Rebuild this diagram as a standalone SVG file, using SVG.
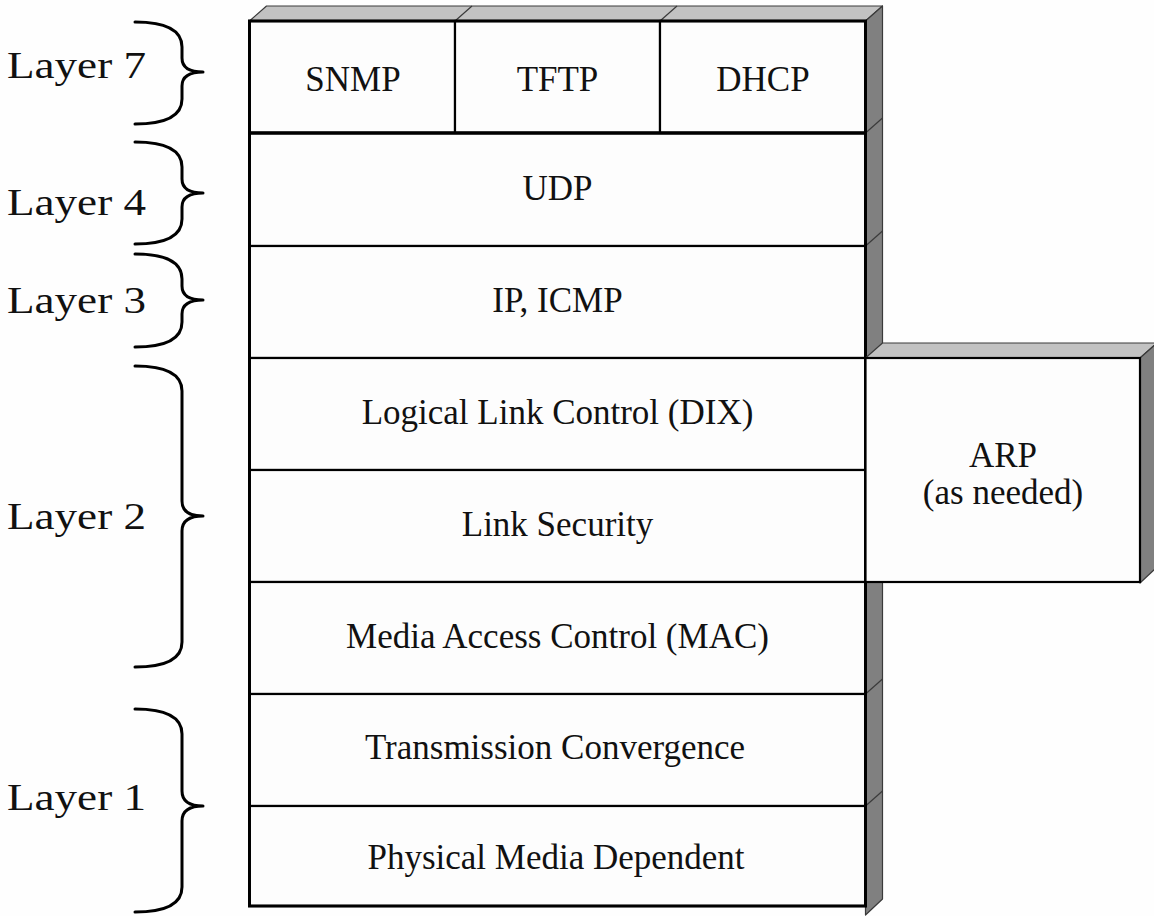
<svg xmlns="http://www.w3.org/2000/svg" width="1154" height="916" viewBox="0 0 1154 916">
  <style>
    .bg { fill: #fefefe; }
    .face { fill: #fdfdfd; stroke: #000; stroke-width: 2.2; }
    .top { fill: #c2c2c2; stroke: #3a3a3a; stroke-width: 1.2; stroke-linejoin: round; }
    .side { fill: #808080; stroke: #3a3a3a; stroke-width: 1.2; stroke-linejoin: round; }
    .edge { fill: none; stroke: #3a3a3a; stroke-width: 1.2; }
    .frame { fill: none; stroke: #000; stroke-width: 3; }
    .lbl { font-family: "Liberation Serif", "Times New Roman", serif; font-size: 35px; fill: #111; text-anchor: middle; }
    .layer { font-family: "Liberation Serif", "Times New Roman", serif; font-size: 38px; fill: #111; }
    .brace { fill: none; stroke: #000; stroke-width: 3; stroke-linecap: round; stroke-linejoin: round; }
  </style>

  <rect class="bg" x="0" y="0" width="1154" height="916"/>

  <!-- 3-D bevels of the main protocol stack -->
  <g id="stack-bevel">
    <polygon class="top" points="249.5,21 266.5,6 882.5,6 865.5,21"/>
    <line class="edge" x1="455" y1="21" x2="472" y2="6"/>
    <line class="edge" x1="660" y1="21" x2="677" y2="6"/>
    <polygon class="side" points="865.5,21 882.5,6 882.5,899 865.5,915"/>
    <line class="edge" x1="865.5" y1="133" x2="882.5" y2="118"/>
    <line class="edge" x1="865.5" y1="246" x2="882.5" y2="231"/>
    <line class="edge" x1="865.5" y1="694" x2="882.5" y2="679"/>
    <line class="edge" x1="865.5" y1="806" x2="882.5" y2="791"/>
  </g>

  <!-- Layer 7 applications -->
  <g id="snmp">
    <rect class="face" x="249.5" y="21" width="205.5" height="112"/>
    <text class="lbl" x="353" y="91">SNMP</text>
  </g>
  <g id="tftp">
    <rect class="face" x="455" y="21" width="205" height="112"/>
    <text class="lbl" x="557.5" y="91">TFTP</text>
  </g>
  <g id="dhcp">
    <rect class="face" x="660" y="21" width="205.5" height="112"/>
    <text class="lbl" x="763" y="91">DHCP</text>
  </g>

  <!-- Layer 4 -->
  <g id="udp">
    <rect class="face" x="249.5" y="133" width="616" height="113"/>
    <text class="lbl" x="557.5" y="200">UDP</text>
  </g>

  <!-- Layer 3 -->
  <g id="ip-icmp">
    <rect class="face" x="249.5" y="246" width="616" height="112"/>
    <text class="lbl" x="557.5" y="312">IP, ICMP</text>
  </g>

  <!-- Layer 2 -->
  <g id="llc">
    <rect class="face" x="249.5" y="358" width="616" height="112"/>
    <text class="lbl" x="557.5" y="424">Logical Link Control (DIX)</text>
  </g>
  <g id="link-security">
    <rect class="face" x="249.5" y="470" width="616" height="112"/>
    <text class="lbl" x="557.5" y="536" font-size="31">Link Security</text>
  </g>
  <g id="mac">
    <rect class="face" x="249.5" y="582" width="616" height="112"/>
    <text class="lbl" x="557.5" y="648">Media Access Control (MAC)</text>
  </g>

  <!-- Layer 1 -->
  <g id="transmission-convergence">
    <rect class="face" x="249.5" y="694" width="616" height="112"/>
    <text class="lbl" x="555" y="759">Transmission Convergence</text>
  </g>
  <g id="physical-media-dependent">
    <rect class="face" x="249.5" y="806" width="616" height="100"/>
    <text class="lbl" x="556" y="869">Physical Media Dependent</text>
  </g>

  <!-- outer frame of the stack, with the heavier rule under the application row -->
  <rect class="frame" x="249.5" y="21" width="616" height="885"/>
  <line x1="249.5" y1="133" x2="865.5" y2="133" stroke="#000" stroke-width="3.5"/>

  <!-- ARP block attached to the side of layer 2 -->
  <g id="arp">
    <polygon class="top" points="865.5,358 882.5,343 1157,343 1140,358"/>
    <polygon class="side" points="1140,358 1157,343 1157,567 1140,583"/>
    <rect class="face" x="865.5" y="358" width="274.5" height="224" stroke-width="3"/>
    <text class="lbl" x="1003" y="467" font-size="30">ARP</text>
    <text class="lbl" x="1003" y="504" font-size="32">(as needed)</text>
  </g>

  <!-- layer braces and labels -->
  <g id="layer-7">
    <path class="brace" d="M135,22 Q182,22 182,47 L182,58 Q182,72 203,72 Q182,72 182,86 L182,99 Q182,124 135,124"/>
    <text class="layer" x="7" y="78" textLength="139" lengthAdjust="spacingAndGlyphs">Layer 7</text>
  </g>
  <g id="layer-4">
    <path class="brace" d="M135,142 Q182,142 182,167 L182,179 Q182,193 203,193 Q182,193 182,207 L182,219 Q182,244 135,244"/>
    <text class="layer" x="7" y="215" textLength="139" lengthAdjust="spacingAndGlyphs">Layer 4</text>
  </g>
  <g id="layer-3">
    <path class="brace" d="M135,254 Q182,254 182,279 L182,286 Q182,300 203,300 Q182,300 182,314 L182,322 Q182,347 135,347"/>
    <text class="layer" x="7" y="313" textLength="139" lengthAdjust="spacingAndGlyphs">Layer 3</text>
  </g>
  <g id="layer-2">
    <path class="brace" d="M135,366 Q182,366 182,391 L182,501 Q182,516 203,516 Q182,516 182,531 L182,642 Q182,667 135,667"/>
    <text class="layer" x="7" y="529" textLength="139" lengthAdjust="spacingAndGlyphs">Layer 2</text>
  </g>
  <g id="layer-1">
    <path class="brace" d="M135,709 Q182,709 182,734 L182,791 Q182,806 203,806 Q182,806 182,821 L182,887 Q182,912 135,912"/>
    <text class="layer" x="7" y="810" textLength="139" lengthAdjust="spacingAndGlyphs">Layer 1</text>
  </g>

  <!-- the stack has no connectors -->
  <g id="connectors"/>
</svg>
